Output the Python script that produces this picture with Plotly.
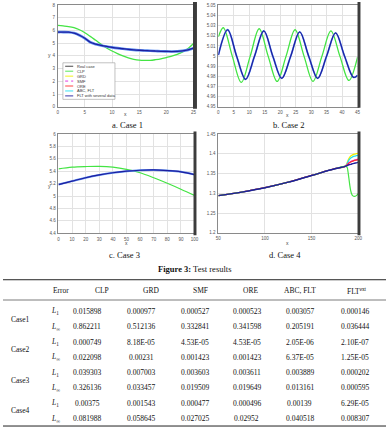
import plotly.graph_objects as go

W, H = 390, 431


def px(x):
    return x / W


def py(y):
    return 1 - y / H


# ---------------- data ----------------
# Case 1
c1_x = [0, 1, 2, 3, 4, 5, 6, 7, 8, 9, 10, 11, 12, 13, 14, 15, 16, 17, 18, 19, 20, 21, 22, 23, 24, 25]
c1_clp = [6.39, 6.35, 6.30, 6.21, 6.05, 5.82, 5.53, 5.22, 4.91, 4.62, 4.38, 4.18, 4.00, 3.84, 3.73,
          3.66, 3.64, 3.65, 3.70, 3.77, 3.87, 3.98, 4.12, 4.31, 4.58, 4.97]
c1_other = [5.87, 5.87, 5.86, 5.79, 5.62, 5.38, 5.07, 4.92, 4.82, 4.74, 4.67, 4.61, 4.56, 4.51, 4.47,
            4.44, 4.42, 4.40, 4.38, 4.36, 4.35, 4.34, 4.35, 4.39, 4.47, 4.60]

# Case 2
c2_clp_x = [0, 1.6, 4.5, 7.4, 10.3, 13.2, 16.1, 19.0, 21.9, 24.8, 27.7, 30.6, 33.5, 36.4, 39.3, 42.2, 45]
c2_clp = [5.019, 5.028, 5.000, 4.974, 5.000, 5.027, 5.000, 4.975, 5.000, 5.026, 5.000, 4.975, 5.000,
          5.025, 5.000, 4.976, 4.999]
c2_oth_x = [0, 3.0, 5.9, 8.8, 11.7, 14.7, 17.6, 20.5, 23.4, 26.3, 29.2, 32.1, 35.0, 37.9, 40.8, 43.7, 45]
c2_oth = [5.001, 5.026, 5.000, 4.977, 5.000, 5.025, 5.000, 4.978, 5.000, 5.024, 5.000, 4.978, 5.000,
          5.023, 5.000, 4.979, 4.981]

# Case 3
c3_x = [0, 10, 20, 30, 40, 50, 60, 70, 80, 90, 100]
c3_clp = [5.437, 5.465, 5.475, 5.478, 5.465, 5.430, 5.375, 5.295, 5.205, 5.110, 5.010]
c3_other = [5.185, 5.240, 5.295, 5.340, 5.375, 5.400, 5.415, 5.420, 5.410, 5.390, 5.345]

# Case 4
c4_x = [50, 75, 100, 125, 150, 175, 186]
c4_common = [1.294, 1.303, 1.314, 1.328, 1.345, 1.362, 1.368]
c4_tail_x = [188, 190, 192, 194, 196, 198, 200]
c4_grd = [1.376, 1.388, 1.394, 1.397, 1.399, 1.400, 1.401]
c4_abc = [1.374, 1.384, 1.389, 1.392, 1.394, 1.395, 1.396]
c4_smf = [1.372, 1.377, 1.380, 1.382, 1.384, 1.385, 1.386]
c4_ore = [1.371, 1.376, 1.379, 1.381, 1.383, 1.384, 1.385]
c4_flt = [1.370, 1.372, 1.373, 1.375, 1.376, 1.377, 1.378]
c4_clp_x = [188, 189, 190, 191, 192, 193, 194, 196, 198, 200]
c4_clp = [1.366, 1.355, 1.338, 1.320, 1.306, 1.298, 1.294, 1.292, 1.294, 1.299]

legend_names = ["Real case", "CLP", "GRD", "SMF", "ORE", "ABC, FLT", "FLT with several data"]

# Table
tbl_cols = ["Error", "CLP", "GRD", "SMF", "ORE", "ABC, FLT", "FLT<sup>ext</sup>"]
tbl_cases = ["Case1", "Case2", "Case3", "Case4"]
tbl_errs = ["<i>L</i><sub>1</sub>", "<i>L</i><sub>\u221e</sub>"]
tbl_vals = [
    ["0.015898", "0.000977", "0.000527", "0.000523", "0.003057", "0.000146"],
    ["0.862211", "0.512136", "0.332841", "0.341598", "0.205191", "0.036444"],
    ["0.000749", "8.18E-05", "4.53E-05", "4.53E-05", "2.05E-06", "2.10E-07"],
    ["0.022098", "0.00231", "0.001423", "0.001423", "6.37E-05", "1.25E-05"],
    ["0.039303", "0.007003", "0.003603", "0.003611", "0.003889", "0.000202"],
    ["0.326136", "0.033457", "0.019509", "0.019649", "0.013161", "0.000595"],
    ["0.00375", "0.001543", "0.000477", "0.000496", "0.00139", "6.29E-05"],
    ["0.081988", "0.058645", "0.027025", "0.02952", "0.040518", "0.008307"],
]

# ---------------- styles ----------------
GREEN = "#44e444"
NAVY = "#1e1e9e"
LBLUE = "#5a8cf0"
YELLOW = "#f0f000"
CYAN = "#22e0f0"
MAGENTA = "#e020e0"
RED = "#ff3030"
DARK = "#333333"
legend_colors = [DARK, GREEN, YELLOW, MAGENTA, RED, CYAN, NAVY]

SANS = "Liberation Sans"
SERIF = "Liberation Serif"
tickfont = dict(family=SANS, size=4.5, color="#555555")

fig = go.Figure()


def line(x, y, color, width, xa, ya, dash="solid"):
    fig.add_trace(go.Scatter(x=x, y=y, mode="lines", xaxis=xa, yaxis=ya,
                             line=dict(color=color, width=width, shape="spline", dash=dash),
                             showlegend=False, hoverinfo="skip"))


# Case 1
line(c1_x, c1_clp, GREEN, 1.3, "x", "y")
line(c1_x, c1_other, LBLUE, 2.6, "x", "y")
line(c1_x, c1_other, NAVY, 1.3, "x", "y")

# Case 2
line(c2_clp_x, c2_clp, GREEN, 1.3, "x2", "y2")
line(c2_oth_x, c2_oth, LBLUE, 1.8, "x2", "y2")
line(c2_oth_x, c2_oth, NAVY, 1.2, "x2", "y2")

# Case 3
line(c3_x, c3_clp, GREEN, 1.2, "x3", "y3")
line(c3_x, c3_other, LBLUE, 2.0, "x3", "y3")
line(c3_x, c3_other, NAVY, 1.2, "x3", "y3")

# Case 4
for tail, col in [(c4_grd, YELLOW), (c4_abc, CYAN), (c4_smf, MAGENTA), (c4_ore, RED)]:
    line(c4_x + c4_tail_x, c4_common + tail, col, 1.3, "x4", "y4")
line(c4_x + c4_clp_x, c4_common + c4_clp, GREEN, 1.2, "x4", "y4")
line(c4_x + c4_tail_x, c4_common + c4_flt, NAVY, 1.4, "x4", "y4")


def axis(domain, rng, dtick, anchor):
    return dict(domain=domain, range=rng, dtick=dtick, anchor=anchor,
                showgrid=True, gridcolor="#e2e2e2", gridwidth=0.6,
                showline=True, linecolor="#8a8a8a", linewidth=0.7, mirror=True,
                zeroline=False, ticks="", tickfont=tickfont, ticklabelstandoff=1)


fig.update_layout(
    width=W, height=H, margin=dict(l=0, r=0, t=0, b=0),
    paper_bgcolor="white", plot_bgcolor="white", showlegend=False,
    xaxis=axis([px(55.7), px(194)], [0, 25], 5, "y"),
    yaxis=axis([py(106), py(3)], [0, 8], 1, "x"),
    xaxis2=axis([px(219.3), px(361)], [0, 45], 5, "y2"),
    yaxis2=axis([py(106), py(3.5)], [4.95, 5.05], 0.01, "x2"),
    xaxis3=axis([px(56.5), px(195)], [0, 100], 10, "y3"),
    yaxis3=axis([py(234), py(133.5)], [4.4, 6], 0.2, "x3"),
    xaxis4=axis([px(219.3), px(361.7)], [50, 200], 50, "y4"),
    yaxis4=axis([py(233.5), py(133.5)], [1.2, 1.45], 0.05, "x4"),
)

shapes = []
annots = []


def text(x, y, s, size, family=SERIF, color="#111111", xanchor="center"):
    annots.append(dict(x=px(x), y=py(y), xref="paper", yref="paper", text=s, showarrow=False,
                       xanchor=xanchor, yanchor="middle",
                       font=dict(family=family, size=size, color=color)))


# axis titles
text(125, 113.5, "x", 5, SANS, "#444")
text(47.5, 54, "y", 5, SANS, "#444")
text(290, 114, "x", 5, SANS, "#444")
text(126, 243.5, "x", 5, SANS, "#444")
text(47, 186, "y", 5, SANS, "#444")
text(290, 244, "x", 5, SANS, "#444")

# captions
text(127, 124, "a. Case 1", 8.5)
text(291, 124, "b. Case 2", 8.5)
text(124, 255.5, "c. Case 3", 8.5)
text(287, 255.5, "d. Case 4", 8.5)
text(195, 270, "<b>Figure 3:</b> Test results", 8.5)

# dark frame bars
for x0, x1, y0, y1 in [(193.5, 197.5, 0, 108), (361, 364, 0, 107), (194, 197, 131, 236), (361, 364, 131, 236)]:
    shapes.append(dict(type="rect", xref="paper", yref="paper", x0=px(x0), x1=px(x1), y0=py(y1), y1=py(y0),
                       fillcolor="#3c3c3c", line=dict(width=0)))

# manual legend in case 1
shapes.append(dict(type="rect", xref="paper", yref="paper", x0=px(61), x1=px(114), y0=py(98.5), y1=py(61.5),
                   fillcolor="white", line=dict(color="#999999", width=0.6)))
for i, (nm, col) in enumerate(zip(legend_names, legend_colors)):
    yy = 65 + 5 * i
    shapes.append(dict(type="line", xref="paper", yref="paper", x0=px(63.3), x1=px(71.5), y0=py(yy), y1=py(yy),
                       line=dict(color=col, width=0.9, dash="dot" if nm == "SMF" else "solid")))
    text(73, yy, nm, 4, SANS, "#333", xanchor="left")

# table
rule_top, rule_head, rule_bot = 281, 301.5, 429
for yy, wdt in [(rule_top, 1.0), (rule_head, 0.6), (rule_bot, 1.0)]:
    shapes.append(dict(type="line", xref="paper", yref="paper", x0=0, x1=1, y0=py(yy), y1=py(yy),
                       line=dict(color="#222222", width=wdt)))

head_x = [59, 101, 151, 201, 252, 302, 360]
for hx, hs in zip(head_x, tbl_cols):
    text(hx, 292, hs, 7.5)

val_x = [86, 141, 195, 248, 302, 358]
row_y = [313, 328.5, 344, 359.5, 375, 390.5, 406, 421.5]
for r, (ry, vals) in enumerate(zip(row_y, tbl_vals)):
    text(53, ry, tbl_errs[r % 2], 7.5)
    for vx, v in zip(val_x, vals):
        text(vx, ry, v, 7.5)
for c, case in enumerate(tbl_cases):
    text(18, (row_y[2 * c] + row_y[2 * c + 1]) / 2, case, 7.5)

fig.update_layout(shapes=shapes, annotations=annots)
fig.write_html("out.html")
